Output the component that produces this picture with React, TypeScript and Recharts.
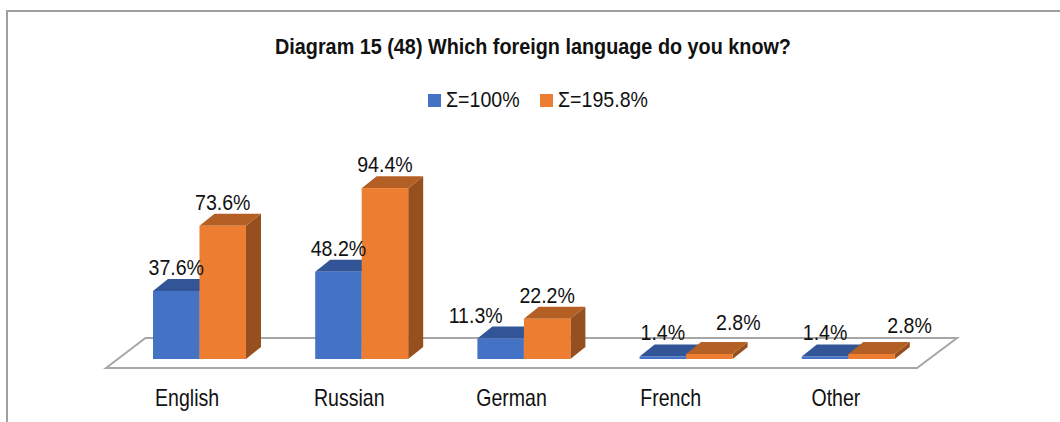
import React from 'react';
import { BarChart, Bar, XAxis, YAxis, Legend, LabelList, usePlotArea } from 'recharts';

const categories = ['English', 'Russian', 'German', 'French', 'Other'];
const seriesA = [37.6, 48.2, 11.3, 1.4, 1.4];
const seriesB = [73.6, 94.4, 22.2, 2.8, 2.8];
const nameA = 'Σ=100%';
const nameB = 'Σ=195.8%';
const title = 'Diagram 15 (48) Which foreign language do you know?';

const rows = categories.map((category, i) => ({ category, a: seriesA[i], b: seriesB[i] }));

const FONT = '"Liberation Sans", Arial, sans-serif';
const DX = 15;
const DY = 12;
const SQUEEZE = 0.89;
const nudgeA = [[0, 0], [0, 0], [-25, 0], [0, 0], [0, 0]];
const nudgeB = [[0, 0], [0, 0], [0, 0], [29, -8], [38, -5]];
const tickNudge = [-12, -12, -12, -15, -12];

function bar3d(front: string, top: string, side: string) {
  return (p: any) => {
    const { x, y, width, height } = p;
    const r = x + width;
    const b = y + height;
    return (
      <g>
        <polygon points={`${r},${y} ${r + DX},${y - DY} ${r + DX},${b - DY} ${r},${b}`} fill={side} />
        <polygon points={`${x},${y} ${x + DX},${y - DY} ${r + DX},${y - DY} ${r},${y}`} fill={top} />
        <rect x={x} y={y} width={width} height={height} fill={front} />
      </g>
    );
  };
}

function Floor() {
  const area = usePlotArea();
  if (!area) return null;
  const base = area.y + area.height;
  const l = area.x;
  const r = area.x + area.width;
  const pts = `${l - 12},${base + 9} ${l + 27.5},${base - 21} ${r + 28},${base - 21} ${r - 12},${base + 9}`;
  return <polygon points={pts} fill="#fff" stroke="#a6a6a6" strokeWidth={2} />;
}

function labelFor(nudge: number[][]) {
  return (p: any) => {
    const { x, y, width, value, index } = p;
    const [nx, ny] = nudge[index] || [0, 0];
    return (
      <text
        transform={`translate(${x + width / 2 + nx},${y - 16 + ny}) scale(${SQUEEZE},1)`}
        textAnchor="middle"
        fontSize={22}
        fontFamily={FONT}
        fill="#111"
      >
        {`${value}%`}
      </text>
    );
  };
}

function CategoryTick(p: any) {
  const { x, y, payload, index } = p;
  return (
    <text
      transform={`translate(${x + tickNudge[index]},${y + 39}) scale(0.85,1)`}
      textAnchor="middle"
      fontSize={23}
      fontFamily={FONT}
      fill="#111"
    >
      {payload.value}
    </text>
  );
}

function LegendBox({ payload }: any) {
  return (
    <div style={{ position: 'relative', height: 30, fontFamily: FONT, fontSize: 22, color: '#111' }}>
      {(payload || []).map((e: any, i: number) => (
        <div key={e.value} style={{ position: 'absolute', left: i === 0 ? 428 : 540, top: 0, display: 'flex', alignItems: 'center', height: 30, whiteSpace: 'nowrap' }}>
          <span style={{ display: 'inline-block', width: 13, height: 13, background: e.color, marginRight: 5 }} />
          <span style={{ display: 'inline-block', transform: `scaleX(${SQUEEZE})`, transformOrigin: 'left center' }}>{e.value}</span>
        </div>
      ))}
    </div>
  );
}

export default function App() {
  return (
    <div style={{ position: 'absolute', left: 0, top: 0, width: 1060, height: 422, background: '#fff', overflow: 'hidden' }}>
      <div style={{ position: 'absolute', left: 6, top: 10, right: -5, bottom: -5, borderTop: '2px solid #a0a0a0', borderLeft: '2px solid #a0a0a0' }} />
      <div style={{ position: 'absolute', left: 0, top: 34, width: 1066, textAlign: 'center', fontFamily: FONT, fontWeight: 700, fontSize: 22, color: '#111', whiteSpace: 'nowrap', transform: 'scaleX(0.9)', transformOrigin: '533px 0' }}>
        {title}
      </div>
      <BarChart
        width={1060}
        height={422}
        data={rows}
        margin={{ top: 148, right: 131, bottom: 23, left: 118 }}
        barSize={46.5}
        barGap={0}
        style={{ position: 'absolute', left: 0, top: 0 }}
      >
        <Floor />
        <XAxis dataKey="category" height={40} axisLine={false} tickLine={false} interval={0} tick={<CategoryTick />} />
        <YAxis hide domain={[0, 100]} />
        <Legend verticalAlign="top" content={<LegendBox />} wrapperStyle={{ position: 'absolute', left: 0, top: 85, width: 1060 }} />
        <Bar dataKey="a" name={nameA} fill="#4472c4" isAnimationActive={false} shape={bar3d('#4472c4', '#325597', '#2a4a85')}>
          <LabelList dataKey="a" content={labelFor(nudgeA)} />
        </Bar>
        <Bar dataKey="b" name={nameB} fill="#ed7d31" isAnimationActive={false} shape={bar3d('#ed7d31', '#b45f24', '#964f1e')}>
          <LabelList dataKey="b" content={labelFor(nudgeB)} />
        </Bar>
      </BarChart>
    </div>
  );
}
